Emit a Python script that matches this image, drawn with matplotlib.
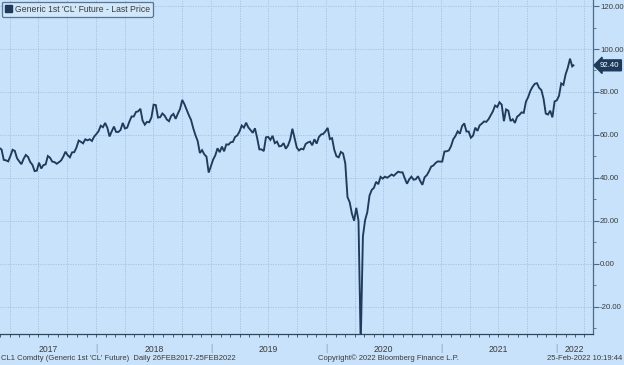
import matplotlib
matplotlib.use("Agg")
import matplotlib.pyplot as plt
import matplotlib.dates as mdates
from matplotlib.patches import Patch
from matplotlib.ticker import MultipleLocator, FormatStrFormatter, NullFormatter
import pandas as pd
import numpy as np

# ---- data (weekly, Monday-dated) ----
p2017 = [54.0,
         53.2, 48.4, 48.2, 47.7,
         50.2, 53.1, 52.6, 49.2,
         47.7, 46.4, 48.9, 50.7, 49.8,
         47.4, 46.1, 43.2, 43.4,
         47.1, 44.4, 46.0, 46.3, 50.2,
         49.4, 47.6, 47.4, 46.6,
         47.3, 48.1, 49.9, 52.2,
         50.6, 49.6, 51.9, 52.0, 54.2,
         57.4, 56.8, 56.1, 58.0,
         57.5, 57.99, 57.2, 59.2]
p2018 = [60.4, 61.7, 64.3, 63.6, 65.6,
         63.4, 59.3, 61.7, 63.9,
         61.4, 61.4, 62.3, 65.6,
         63.0, 63.4, 66.2, 68.6, 68.6,
         70.7, 71.0, 72.2, 66.7,
         64.8, 66.1, 65.9, 68.1,
         74.1, 73.9, 68.1, 68.3, 70.0,
         69.0, 67.2, 66.4, 68.9,
         69.8, 67.5, 69.9, 72.1,
         76.3, 74.3, 71.8, 69.2, 67.0,
         63.1, 59.9, 57.2, 51.6,
         52.95, 51.0, 49.9, 42.5, 45.4]
p2019 = [48.5, 50.5, 53.8, 51.99,
         54.6, 52.4, 55.6, 55.5,
         56.6, 56.8, 59.1, 59.8,
         61.6, 64.4, 63.4, 65.7, 63.5,
         62.3, 61.0, 63.1, 58.6,
         53.3, 53.3, 52.5, 58.9,
         59.1, 57.7, 59.6, 56.2, 56.9,
         54.7, 54.9, 56.2, 53.6,
         55.1, 57.9, 62.9, 58.6, 54.1,
         52.8, 53.6, 53.3, 55.8,
         56.5, 56.9, 55.2, 58.0,
         55.96, 59.0, 60.2, 60.5, 61.7]
p2020 = [63.3, 58.1, 58.5, 53.1,
         50.1, 49.6, 52.1, 51.4,
         46.8, 31.1, 28.7, 23.4, 20.1,
         26.1, 20.1, -37.6, 12.8,
         20.4, 24.1, 31.8, 34.4,
         35.4, 38.2, 37.1, 40.5, 39.7,
         40.6, 40.1, 40.8, 41.6,
         41.0, 42.0, 42.9, 42.6, 42.6,
         39.8, 37.3, 39.3, 40.6,
         39.2, 39.4, 40.8, 38.6,
         36.8, 40.3, 41.3, 43.1, 45.3,
         45.8, 46.99, 47.7, 47.6]
p2021 = [47.6, 52.3, 52.4, 52.8,
         54.8, 58.0, 59.5, 61.7,
         60.6, 64.1, 65.4, 61.6, 61.6,
         58.7, 59.7, 63.4, 61.9,
         64.5, 65.3, 66.3, 66.1, 67.3,
         69.2, 71.0, 73.7, 73.0,
         75.2, 74.1, 66.4, 71.9,
         71.3, 66.5, 67.3, 65.6, 68.5,
         69.3, 70.5, 70.3, 75.5,
         77.6, 80.5, 82.4, 83.8,
         84.1, 81.9, 80.9, 76.8, 69.95,
         69.5, 71.3, 68.2, 75.6]
p2022 = [76.1, 78.2, 84.0, 83.3, 88.2,
         91.3, 95.5, 91.9]
last_date = "2022-02-25"
last_price = 92.40

years = ["2017", "2018", "2019", "2020", "2021", "2022"]
ytick_vals = [-20, 0, 20, 40, 60, 80, 100, 120]

prices = p2017 + p2018 + p2019 + p2020 + p2021 + p2022 + [last_price]
dates = list(pd.date_range("2017-02-27", periods=len(prices) - 1, freq="W-MON")) + [pd.Timestamp(last_date)]

# ---- style ----
BG = "#c7e2fa"
GRID = "#9fc0e0"
LINE = "#1f3a5a"
TXT = "#3b3b3b"
NAVY = "#1d3a5c"
FONT = ["Liberation Sans", "DejaVu Sans"]

plt.rcParams["font.family"] = FONT

fig = plt.figure(figsize=(6.24, 3.65), dpi=100, facecolor=BG)
ax = fig.add_axes([0.0, 0.085, 0.9503, 0.915], facecolor=BG)

ax.plot(dates, prices, color=LINE, lw=1.35, solid_joinstyle="miter")

ax.set_xlim(pd.Timestamp("2017-03-01"), pd.Timestamp("2022-04-28"))
ax.set_ylim(-32.6, 122.8)

# y axis on the right
ax.yaxis.tick_right()
ax.yaxis.set_major_locator(plt.FixedLocator(ytick_vals))
ax.yaxis.set_minor_locator(MultipleLocator(10))
ax.yaxis.set_major_formatter(FormatStrFormatter("%.2f"))
ax.tick_params(axis="y", which="major", direction="out", length=4, width=0.8,
               color="#4d6a88", labelsize=5.6, labelcolor=TXT, pad=1)
ax.tick_params(axis="y", which="minor", direction="out", length=2.5, width=0.6, color="#4d6a88")

# x axis: monthly ticks, quarterly grid
ax.xaxis.set_major_locator(mdates.MonthLocator(bymonth=[1, 4, 7, 10]))
ax.xaxis.set_minor_locator(mdates.MonthLocator())
ax.xaxis.set_major_formatter(NullFormatter())
ax.tick_params(axis="x", which="both", direction="out", length=2.5, width=0.6, color="#30465c")

ax.grid(True, which="major", color=GRID, lw=0.6, ls=(0, (1.5, 1.5)))

for s in ["left", "top"]:
    ax.spines[s].set_visible(False)
ax.spines["right"].set_color("#4d6a88")
ax.spines["right"].set_linewidth(0.9)
ax.spines["bottom"].set_color("#30465c")
ax.spines["bottom"].set_linewidth(0.9)

# year labels centred on their visible span, with separators
xmin, xmax = ax.get_xlim()
for i, y in enumerate(years):
    start = max(mdates.date2num(pd.Timestamp(f"{y}-01-01")), xmin)
    end = min(mdates.date2num(pd.Timestamp(f"{int(y)+1}-01-01")), xmax)
    ax.text((start + end) / 2, -0.045, y, transform=ax.get_xaxis_transform(),
            ha="center", va="center", fontsize=6.2, color=TXT)
    if i > 0:
        ax.text(mdates.date2num(pd.Timestamp(f"{y}-01-01")), -0.042, "|",
                transform=ax.get_xaxis_transform(), ha="center", va="center",
                fontsize=6.5, color="#8a9fb5")

# legend
h = Patch(facecolor=NAVY, edgecolor=NAVY)
leg = ax.legend([h], ["Generic 1st 'CL' Future - Last Price"], loc="upper left",
                bbox_to_anchor=(0.0, 1.0), fontsize=6.2, frameon=True, fancybox=True,
                handlelength=0.8, handleheight=0.8, handletextpad=0.4,
                borderpad=0.35, borderaxespad=0.2, labelcolor=TXT)
leg.get_frame().set_facecolor("#d4e9fb")
leg.get_frame().set_edgecolor("#3d5a7a")
leg.get_frame().set_linewidth(0.9)

# last price tag
ax.annotate(f"{last_price:.2f}", xy=(1.0, last_price), xycoords=("axes fraction", "data"),
            xytext=(5, 0), textcoords="offset points", ha="left", va="center",
            fontsize=5.6, color="white",
            bbox=dict(boxstyle="larrow,pad=0.25", fc=NAVY, ec=NAVY))

# footer
fig.text(0.002, 0.008, "CL1 Comdty (Generic 1st 'CL' Future)  Daily 26FEB2017-25FEB2022",
         fontsize=5.5, color=TXT, ha="left", va="bottom")
fig.text(0.51, 0.008, "Copyright\u00a9 2022 Bloomberg Finance L.P.",
         fontsize=5.5, color=TXT, ha="left", va="bottom")
fig.text(0.997, 0.008, "25-Feb-2022 10:19:44",
         fontsize=5.5, color=TXT, ha="right", va="bottom")

fig.savefig("out.png", dpi=100, facecolor=BG)
